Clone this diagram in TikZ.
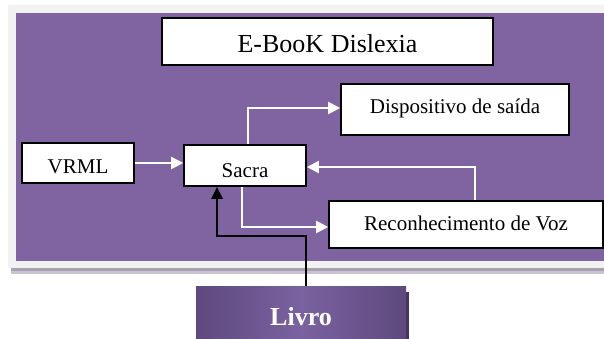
\documentclass[tikz,border=0pt]{standalone}
\usepackage{fontspec}
\setmainfont{Liberation Serif}
\usetikzlibrary{arrows.meta}
\definecolor{bgpurple}{HTML}{8064A2}
\definecolor{framegray}{HTML}{F2F2F2}
\definecolor{shadowA}{HTML}{A8A1B2}
\definecolor{shadowB}{HTML}{C9C4CF}
\definecolor{livroedge}{HTML}{5E497E}
\definecolor{livromid}{HTML}{7A62A0}
\definecolor{livroshadow}{HTML}{46335F}
\tikzset{
  wbox/.style={draw=black, line width=1.6pt, fill=white, inner sep=0pt,
    text depth=0pt, font=\fontsize{21}{24}\selectfont},
  wire/.style={draw=white, line width=2pt,
    -{Triangle[length=12pt,width=12pt]}},
  blackwire/.style={draw=black, line width=2.6pt,
    -{Triangle[length=12pt,width=11pt]}},
}
\begin{document}
\begin{tikzpicture}[x=1pt,y=-1pt]
\useasboundingbox (0,0) rectangle (604,339);
% frame and background
\fill[shadowB] (11,10) rectangle (620,274);
\fill[shadowA] (11,10) rectangle (620,271);
\fill[framegray] (8,5) rectangle (620,268);
\fill[bgpurple] (16,13) rectangle (620,261);
% boxes
\node[wbox, minimum width=331pt, minimum height=47pt, text height=23pt,
  font=\fontsize{26}{30}\selectfont] (ebook) at (327.5,41.5) {E-BooK Dislexia};
\node[wbox, minimum width=228pt, minimum height=51pt, text height=9pt]
  (disp) at (455,109.5) {Dispositivo de saída};
\node[wbox, minimum width=112pt, minimum height=40pt, text height=20pt]
  (vrml) at (78,163) {VRML};
\node[wbox, minimum width=122pt, minimum height=41pt, text height=23pt]
  (sacra) at (245,165.5) {Sacra};
\node[wbox, minimum width=274pt, minimum height=47pt, text height=11pt]
  (reco) at (466,224.5) {Reconhecimento de Voz};
% Livro
\fill[livroshadow] (199,292) rectangle (409,350);
\node[minimum width=210pt, minimum height=64pt, inner sep=0pt,
  left color=livroedge, right color=livroedge, middle color=livromid,
  text=white, text height=15.5pt, text depth=0pt,
  font=\fontsize{26}{30}\selectfont\bfseries] (livro) at (301,318) {Livro};
% connectors
\draw[wire] ([xshift=3pt]sacra.north) |- ([yshift=1.5pt]disp.west);
\draw[wire] (vrml.east) -- (vrml.east -| sacra.west);
\draw[wire] ([xshift=9pt]reco.north) |- ([yshift=-1.5pt]sacra.east);
\draw[wire] ([xshift=-3pt]sacra.south) |- ([yshift=-2.5pt]reco.west);
\coordinate (bend) at (217,236);
\draw[blackwire] ([xshift=5pt]livro.north) |- (bend) -- (bend |- sacra.south);
\end{tikzpicture}
\end{document}
